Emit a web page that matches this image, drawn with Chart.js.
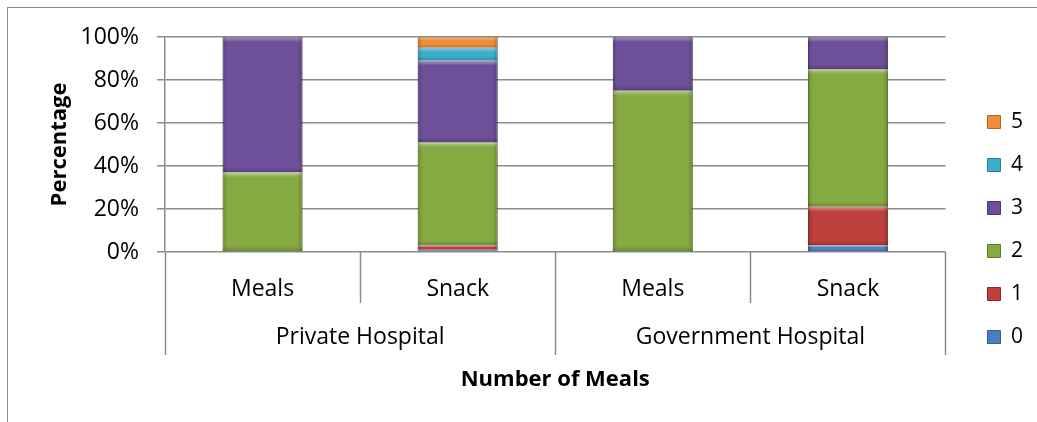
<!DOCTYPE html>
<html><head><meta charset="utf-8">
<script src="https://cdn.jsdelivr.net/npm/chart.js@4/dist/chart.umd.min.js"></script>
<style>html,body{margin:0;padding:0;background:#fff}#wrap{position:relative;width:1037px;height:422px}</style>
</head><body><div id="wrap"><canvas id="c" width="1037" height="422"></canvas></div>
<script>
const categories = ['Meals', 'Snack', 'Meals', 'Snack'];
const groups = ['Private Hospital', 'Government Hospital'];
const seriesNames = ['0', '1', '2', '3', '4', '5'];
const s0 = [0, 1, 0, 3];
const s1 = [0, 2, 0, 18];
const s2 = [37, 48, 75, 64];
const s3 = [63, 38, 25, 15];
const s4 = [0, 6, 0, 0];
const s5 = [0, 5, 0, 0];
const seriesValues = [s0, s1, s2, s3, s4, s5];
const yTickValues = [0, 20, 40, 60, 80, 100];
const yTitle = 'Percentage';
const xTitle = 'Number of Meals';

const fills = ['#4A7FC1', '#BE3F3B', '#86AA42', '#6E509A', '#3DAECB', '#F08D3C'];
const edges = ['#2F5D94', '#8C2A27', '#5E7D2A', '#4D3570', '#267E95', '#B8651F'];
const FONT = "'Open Sans', sans-serif";
const GRID = '#8c8c8c';

const borderPlugin = {
  id: 'outerBorder',
  beforeDraw(chart) {
    const ctx = chart.ctx;
    ctx.save();
    ctx.strokeStyle = '#8c8c8c';
    ctx.lineWidth = 1;
    ctx.strokeRect(7.5, 7.5, 1100, 500);
    ctx.restore();
  }
};

const bevelPlugin = {
  id: 'bevel',
  afterDatasetsDraw(chart) {
    const ctx = chart.ctx;
    ctx.save();
    chart.data.datasets.forEach((ds, di) => {
      const meta = chart.getDatasetMeta(di);
      meta.data.forEach(el => {
        const top = Math.min(el.y, el.base), bot = Math.max(el.y, el.base);
        const h = bot - top;
        if (h < 3) return;
        const l = el.x - el.width / 2, w = el.width;
        const e = Math.min(5, h / 3);
        let g = ctx.createLinearGradient(0, top, 0, top + e);
        g.addColorStop(0, 'rgba(255,255,255,0.4)');
        g.addColorStop(1, 'rgba(255,255,255,0)');
        ctx.fillStyle = g; ctx.fillRect(l, top, w, e);
        g = ctx.createLinearGradient(l, 0, l + 5, 0);
        g.addColorStop(0, 'rgba(0,0,0,0.18)');
        g.addColorStop(1, 'rgba(0,0,0,0)');
        ctx.fillStyle = g; ctx.fillRect(l, top, 5, h);
        g = ctx.createLinearGradient(l + w, 0, l + w - 5, 0);
        g.addColorStop(0, 'rgba(0,0,0,0.22)');
        g.addColorStop(1, 'rgba(0,0,0,0)');
        ctx.fillStyle = g; ctx.fillRect(l + w - 5, top, 5, h);
        g = ctx.createLinearGradient(0, bot, 0, bot - e);
        g.addColorStop(0, 'rgba(0,0,0,0.2)');
        g.addColorStop(1, 'rgba(0,0,0,0)');
        ctx.fillStyle = g; ctx.fillRect(l, bot - e, w, e);
      });
    });
    ctx.restore();
  }
};

const groupAxisPlugin = {
  id: 'groupAxis',
  afterDraw(chart) {
    const ctx = chart.ctx, xs = chart.scales.x, area = chart.chartArea;
    const n = categories.length;
    const edgeAt = i => {
      if (i <= 0) return area.left;
      if (i >= n) return area.right;
      return (xs.getPixelForValue(i - 1) + xs.getPixelForValue(i)) / 2;
    };
    ctx.save();
    ctx.strokeStyle = GRID;
    ctx.lineWidth = 1.5;
    const perGroup = n / groups.length;
    for (let i = 0; i <= n; i++) {
      const x = Math.round(edgeAt(i)) + 0.5;
      const isGroup = i % perGroup === 0;
      ctx.beginPath();
      ctx.moveTo(x, area.bottom);
      ctx.lineTo(x, isGroup ? 355 : 303);
      ctx.stroke();
    }
    ctx.fillStyle = '#000';
    ctx.font = '23px ' + FONT;
    ctx.textAlign = 'center';
    ctx.textBaseline = 'middle';
    groups.forEach((g, gi) => {
      const cx = (edgeAt(gi * perGroup) + edgeAt((gi + 1) * perGroup)) / 2;
      ctx.fillText(g, cx, 337);
    });
    ctx.restore();
  }
};

const datasets = seriesNames.map((name, i) => ({
  label: name,
  data: seriesValues[i],
  backgroundColor: fills[i],
  borderColor: edges[i],
  borderWidth: 1,
  categoryPercentage: 1,
  barPercentage: 0.41
}));

new Chart(document.getElementById('c'), {
  type: 'bar',
  data: { labels: categories, datasets },
  plugins: [borderPlugin, bevelPlugin, groupAxisPlugin],
  options: {
    responsive: false,
    animation: false,
    layout: { padding: { top: 37, right: 4, left: 0, bottom: 0 } },
    plugins: {
      tooltip: { enabled: false },
      legend: {
        position: 'right',
        reverse: true,
        labels: {
          boxWidth: 13, boxHeight: 13, padding: 22,
          color: '#000',
          font: { family: FONT, size: 21 }
        }
      }
    },
    scales: {
      x: {
        stacked: true,
        grid: { display: false },
        border: { display: false },
        ticks: { color: '#000', font: { family: FONT, size: 23 }, padding: 16, maxRotation: 0 },
        title: { display: true, text: xTitle, color: '#000', font: { family: FONT, size: 22, weight: 'bold' }, padding: { top: 0, bottom: 29 } },
        afterFit(s) { s.height = 170; }
      },
      y: {
        stacked: true,
        min: 0, max: 100,
        afterBuildTicks(s) { s.ticks = yTickValues.map(v => ({ value: v })); },
        ticks: { color: '#000', font: { family: FONT, size: 23 }, padding: 18, callback: v => v + '%' },
        grid: { color: GRID, lineWidth: 1.5, tickLength: 8, drawTicks: true },
        border: { display: true, color: GRID, width: 1.5 },
        title: { display: true, text: yTitle, color: '#000', font: { family: FONT, size: 22, weight: 'bold' }, padding: { top: 47, bottom: 0 } },
        afterFit(s) { s.width = 165; }
      },
      yPad: {
        position: 'right',
        display: true,
        grid: { display: false },
        border: { display: false },
        ticks: { display: false },
        afterFit(s) { s.width = 20; }
      }
    }
  }
});
</script>
</body></html>
